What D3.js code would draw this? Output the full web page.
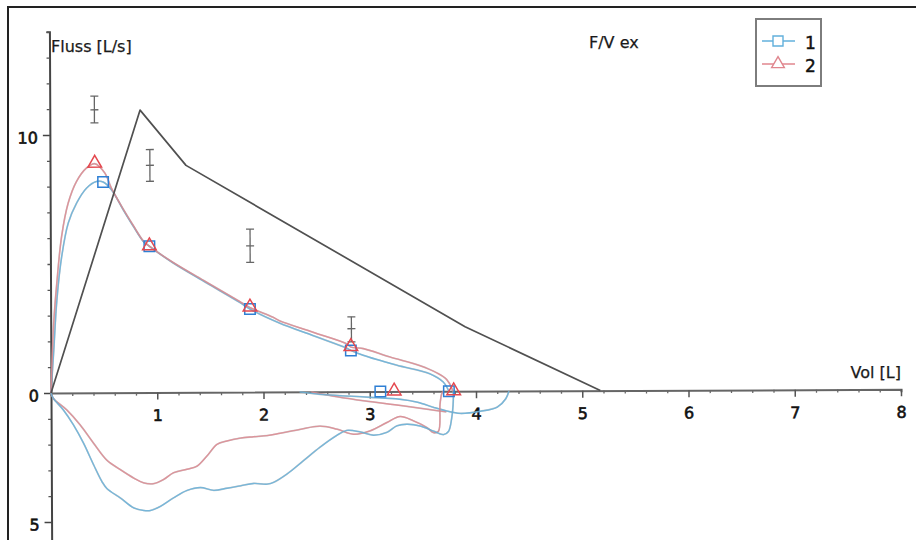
<!DOCTYPE html>
<html>
<head>
<meta charset="utf-8">
<script src="https://cdn.jsdelivr.net/npm/d3@7"></script>
<style>
  html, body { margin: 0; padding: 0; background: #fff; }
  svg { display: block; font-family: "DejaVu Sans", Verdana, sans-serif; }
</style>
</head>
<body>
<svg id="chart" width="916" height="540"></svg>
<script>
// ---- axis ticks ----
const xMinorTicks = d3.range(0, 40).map(i => i / 5);       // every 0.2 L
const xMajorTicks = [1, 2, 3, 4, 5, 6, 7, 8];
const yMinorTicks = d3.range(-6, 15);                       // every 1 L/s
const yMajorTicks = [-5, 0, 10];
const yTickText = ["5", "0", "10"];

// ---- predicted curve and reference ranges ----
const predicted = [[0, 0], [0.85, 10.95], [1.28, 8.8], [3.9, 2.5], [5.17, 0]];
// [volume, low, centre, high]
const predRanges = [
  [0.42, 10.46, 10.97, 11.5],
  [0.94, 8.19, 8.81, 9.42],
  [1.88, 5.03, 5.67, 6.32],
  [2.83, 1.93, 2.44, 2.9]
];

// ---- trial 1 ----
const exp1 = [[0, 0], [0.028, 1.67], [0.059, 3.6], [0.106, 5.28], [0.169, 6.58], [0.248, 7.35],
  [0.342, 7.93], [0.436, 8.19], [0.499, 8.17], [0.577, 7.87], [0.687, 7.09], [0.781, 6.45],
  [0.875, 5.86], [0.932, 5.67], [1.151, 5.03], [1.465, 4.25], [1.779, 3.48], [1.876, 3.22],
  [2.155, 2.67], [2.469, 2.18], [2.783, 1.69], [2.824, 1.6], [2.939, 1.41], [3.254, 1.02],
  [3.567, 0.68], [3.692, 0.36], [3.745, 0]];
const insp1 = [[0, 0], [0.022, -0.21], [0.116, -0.66], [0.21, -1.24], [0.304, -1.95], [0.398, -2.79],
  [0.477, -3.45], [0.524, -3.72], [0.649, -4.08], [0.775, -4.47], [0.869, -4.57], [0.932, -4.57],
  [1.026, -4.41], [1.151, -4.08], [1.277, -3.8], [1.402, -3.69], [1.528, -3.8], [1.654, -3.72],
  [1.779, -3.63], [1.904, -3.54], [2.03, -3.57], [2.092, -3.5], [2.218, -3.18], [2.375, -2.66],
  [2.532, -2.14], [2.689, -1.69], [2.783, -1.5], [2.908, -1.56], [3.033, -1.69], [3.16, -1.58],
  [3.254, -1.33], [3.348, -1.27], [3.473, -1.34], [3.598, -1.54], [3.692, -1.68], [3.739, -1.56],
  [3.771, -1.02], [3.786, -0.36], [3.786, 0]];
const tail1 = [[2.34, 0], [2.53, -0.1], [2.81, -0.17], [3.0, -0.22], [3.28, -0.3], [3.45, -0.42],
  [3.6, -0.62], [3.72, -0.76], [3.85, -0.86], [4.04, -0.78], [4.2, -0.62], [4.28, -0.3], [4.31, 0]];
const marks1 = [[0.499, 8.17], [0.932, 5.67], [1.876, 3.22], [2.824, 1.6], [3.1, 0], [3.745, 0]];

// ---- trial 2 ----
const exp2 = [[0, 0], [0.028, 2.7], [0.059, 4.25], [0.106, 6.06], [0.169, 7.35], [0.248, 8.19],
  [0.342, 8.71], [0.421, 8.88], [0.515, 8.52], [0.577, 7.93], [0.687, 7.12], [0.781, 6.48],
  [0.875, 5.88], [0.932, 5.67], [1.151, 5.05], [1.465, 4.28], [1.779, 3.52], [1.876, 3.28],
  [2.092, 2.9], [2.155, 2.76], [2.469, 2.31], [2.783, 1.86], [2.824, 1.73], [2.939, 1.67],
  [3.191, 1.34], [3.473, 1.0], [3.63, 0.72], [3.724, 0.46], [3.774, 0.1], [3.78, 0]];
const insp2 = [[0, 0], [0.022, -0.21], [0.148, -0.66], [0.273, -1.24], [0.398, -1.95], [0.524, -2.62],
  [0.649, -2.98], [0.775, -3.31], [0.869, -3.5], [0.963, -3.53], [1.057, -3.37], [1.151, -3.11],
  [1.277, -2.98], [1.371, -2.86], [1.465, -2.47], [1.56, -2.02], [1.654, -1.89], [1.779, -1.78],
  [1.904, -1.73], [2.03, -1.69], [2.155, -1.6], [2.344, -1.45], [2.532, -1.33], [2.689, -1.45],
  [2.845, -1.65], [3.002, -1.52], [3.16, -1.2], [3.285, -0.97], [3.41, -1.14], [3.536, -1.4],
  [3.598, -1.6], [3.645, -1.55], [3.661, -0.5], [3.677, -0.1], [3.69, 0]];
const tail2 = [[2.45, 0], [2.7, -0.2], [2.95, -0.36], [3.3, -0.55], [3.55, -0.7], [3.72, -0.8]];
const marks2 = [[0.421, 8.88], [0.932, 5.67], [1.876, 3.28], [2.824, 1.73], [3.23, 0], [3.79, 0]];

// ---- legend ----
const legendNames = ["1", "2"];

// ---- colours ----
const blueLine = "#62b0dc", redLine = "#e0868e";
const blueMark = "#2e7fd4", redMark = "#e4484f";
const predColor = "#505050";

const svg = d3.select("#chart");

// outer frame
svg.append("rect")
  .attr("x", 8).attr("y", 7).attr("width", 1000).attr("height", 1000)
  .attr("fill", "none").attr("stroke", "#222").attr("stroke-width", 2);

const x = d3.scaleLinear().domain([0, 8]).range([51, 901]);
const y = d3.scaleLinear().domain([0, 10]).range([393, 135]);

// plot area is very slightly tilted
const g = svg.append("g").attr("transform", `rotate(-0.25, ${x(0)}, ${y(0)})`);

// ---- axes ----
const yFull = y.copy().domain([-6, 14]).range([y(-6), y(14)]);
const labelStyle = a => a.selectAll(".tick text")
  .attr("font-size", 16).attr("font-family", "DejaVu Sans, sans-serif")
  .attr("fill", "#111").attr("stroke", "#111").attr("stroke-width", 0.6);

// y axis: minor ticks
g.append("g").attr("transform", `translate(${x(0)},0)`)
  .call(d3.axisLeft(yFull).tickValues(yMinorTicks.filter(v => !yMajorTicks.includes(v)))
    .tickSize(3).tickFormat(""))
  .call(a => a.select(".domain").attr("stroke", "#444").attr("stroke-width", 2))
  .call(a => a.selectAll(".tick line").attr("stroke", "#555").attr("stroke-width", 1.3));

// y axis: labelled ticks
g.append("g").attr("transform", `translate(${x(0)},0)`)
  .call(d3.axisLeft(yFull).tickValues(yMajorTicks).tickSize(7).tickPadding(5)
    .tickFormat((d, i) => yTickText[i]))
  .call(a => a.select(".domain").remove())
  .call(a => a.selectAll(".tick line").attr("stroke", "#444").attr("stroke-width", 1.5))
  .call(a => a.selectAll(".tick text").attr("dy", "0.5em"))
  .call(labelStyle);

// x axis: minor ticks
g.append("g").attr("transform", `translate(0,${y(0)})`)
  .call(d3.axisBottom(x).tickValues(xMinorTicks.filter(v => !xMajorTicks.includes(v) && v > 0))
    .tickSize(3).tickFormat(""))
  .call(a => a.select(".domain").attr("stroke", "#666").attr("stroke-width", 2))
  .call(a => a.selectAll(".tick line").attr("stroke", "#666").attr("stroke-width", 1.3));

// x axis: labelled ticks
g.append("g").attr("transform", `translate(0,${y(0)})`)
  .call(d3.axisBottom(x).tickValues(xMajorTicks).tickSize(7).tickPadding(10).tickFormat(d3.format("d")))
  .call(a => a.select(".domain").remove())
  .call(a => a.selectAll(".tick line").attr("stroke", "#555").attr("stroke-width", 1.5))
  .call(labelStyle);

// ---- curves ----
const smooth = d3.line().x(d => x(d[0])).y(d => y(d[1])).curve(d3.curveCatmullRom.alpha(0.5));
const straight = d3.line().x(d => x(d[0])).y(d => y(d[1]));

function drawCurve(data, color) {
  g.append("path").attr("d", smooth(data)).attr("fill", "none")
    .attr("stroke", "#a3a3a3").attr("stroke-width", 1.7).attr("stroke-opacity", 0.55);
  g.append("path").attr("d", smooth(data)).attr("fill", "none")
    .attr("stroke", color).attr("stroke-width", 1.4).attr("stroke-opacity", 0.8);
}

drawCurve(tail2, redLine);
drawCurve(tail1, blueLine);
drawCurve(insp2, redLine);
drawCurve(insp1, blueLine);
drawCurve(exp1, blueLine);
drawCurve(exp2, redLine);

// predicted curve
g.append("path").attr("d", straight(predicted)).attr("fill", "none")
  .attr("stroke", predColor).attr("stroke-width", 1.7).attr("stroke-linejoin", "round");

// predicted ranges
const bars = g.append("g").attr("stroke", "#666").attr("stroke-width", 1.3).attr("fill", "none");
predRanges.forEach(([v, lo, mid, hi]) => {
  const cx = x(v);
  bars.append("line").attr("x1", cx).attr("x2", cx).attr("y1", y(lo)).attr("y2", y(hi));
  [lo, mid, hi].forEach(f => {
    bars.append("line").attr("x1", cx - 4).attr("x2", cx + 4).attr("y1", y(f)).attr("y2", y(f));
  });
});

// ---- markers ----
const square = d3.symbol().type(d3.symbolSquare).size(110);
const triangle = d3.symbol().type(d3.symbolTriangle).size(80);

g.append("g").selectAll("path").data(marks1).join("path")
  .attr("d", square).attr("transform", d => `translate(${x(d[0])},${y(d[1])})`)
  .attr("fill", "none").attr("stroke", blueMark).attr("stroke-width", 1.5);

g.append("g").selectAll("path").data(marks2).join("path")
  .attr("d", triangle).attr("transform", d => `translate(${x(d[0])},${y(d[1]) - 0.5})`)
  .attr("fill", "none").attr("stroke", redMark).attr("stroke-width", 1.5);

// ---- titles ----
const txt = (tx, ty, s, anchor) => svg.append("text")
  .attr("x", tx).attr("y", ty).attr("text-anchor", anchor || "start")
  .attr("font-size", 16).attr("fill", "#1a1a1a").attr("stroke", "#1a1a1a").attr("stroke-width", 0.25)
  .text(s);

txt(51, 52, "Fluss [L/s]");
txt(901, 378, "Vol [L]", "end");
txt(589, 48, "F/V ex");

// ---- legend ----
const lg = svg.append("g");
lg.append("rect").attr("x", 756).attr("y", 19).attr("width", 65).attr("height", 67)
  .attr("fill", "#fff").attr("stroke", "#7d7d7d").attr("stroke-width", 2);

const legendRows = [
  { name: legendNames[0], line: blueLine, sym: d3.symbol().type(d3.symbolSquare).size(100), y: 41 },
  { name: legendNames[1], line: redLine, sym: d3.symbol().type(d3.symbolTriangle).size(70), y: 64 }
];
legendRows.forEach(r => {
  lg.append("line").attr("x1", 762).attr("x2", 795).attr("y1", r.y).attr("y2", r.y)
    .attr("stroke", r.line).attr("stroke-width", 1.4);
  lg.append("path").attr("d", r.sym())
    .attr("transform", `translate(778,${r.y})`)
    .attr("fill", "#fff").attr("stroke", r.line).attr("stroke-width", 1.4);
  lg.append("text").attr("x", 805).attr("y", r.y + 8).attr("font-size", 17)
    .attr("fill", "#111").attr("stroke", "#111").attr("stroke-width", 0.45).text(r.name);
});
</script>
</body>
</html>
